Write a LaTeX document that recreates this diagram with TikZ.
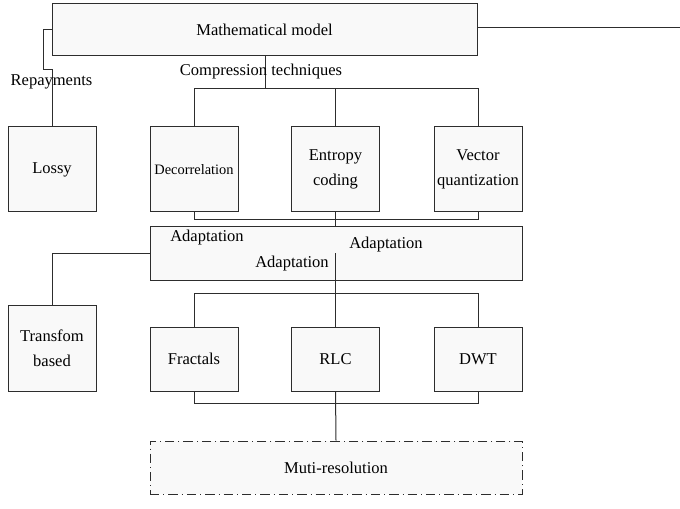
\documentclass[tikz,border=0pt]{standalone}
\usepackage{fontspec}
\setmainfont{Liberation Serif}
\usepackage{tikz}
\definecolor{boxgray}{RGB}{249, 249, 249}
\definecolor{linegray}{RGB}{45, 45, 45}

\begin{document}
\begin{tikzpicture}[x = 0.75pt, y = -0.75pt,
	wire/.style = {draw = linegray, line width = 0.75pt},
	box/.style = {rectangle, draw = linegray, fill = boxgray, line width = 0.75pt,
		align = center, inner sep = 1pt, font = \fontsize{12.4}{18.5}\selectfont},
	smallbox/.style = {box, minimum width = 66pt, minimum height = 63.75pt},
	lowbox/.style = {box, minimum width = 66pt, minimum height = 48pt},
	widebox/.style = {box, minimum width = 279pt, minimum height = 39.75pt},
	label/.style = {inner sep = 0pt, font = \fontsize{12.4}{14}\selectfont}]
	\useasboundingbox (0,0) rectangle (680,509);
	\node (model) at (264.5,30) [box, minimum width = 318.75pt, minimum height = 39pt] {Mathematical model};
	\node (lossy) at (52,169.5) [smallbox] {Lossy};
	\node (decor) at (194,169.5) [smallbox, font = \fontsize{10.8}{13}\selectfont] {Decorrelation};
	\node (entropy) at (335.5,169.5) [smallbox] {Entropy\\coding};
	\node (vq) at (478,169.5) [smallbox] {Vector\\quantization};
	\node (adapt) at (336,253.5) [widebox] {};
	\node (transf) at (52,348) [box, minimum width = 66pt, minimum height = 64.5pt] {Transfom\\based};
	\node (fractal) at (194,359) [lowbox] {Fractals};
	\node (rlc) at (335.5,359) [lowbox] {RLC};
	\node (dwt) at (478,359) [lowbox] {DWT};
	\node (multi) at (336,467.5) [widebox, dash pattern = on 7pt off 3pt on 0.8pt off 3pt] {Muti-resolution};
	\coordinate (lk) at (43,70);
	\coordinate (rightend) at (680,28);
	\coordinate (bus1) at (265,89);
	\coordinate (bus2) at (335,220);
	\coordinate (tick) at (335.5,253);
	\coordinate (bus3) at (335,293);
	\coordinate (bus4) at (335,403);
	\draw[wire] (model.west) -- (model.west -| lk) -- (lk) -- (lk -| lossy.north) -- (lossy.north);
	\draw[wire] (model.east |- rightend) -- (rightend);
	\draw[wire] (model.south -| bus1) -- (bus1);
	\draw[wire] (decor.north) -- (decor.north |- bus1) -- (vq.north |- bus1) -- (vq.north);
	\draw[wire] (entropy.north) -- (entropy.north |- bus1);
	\draw[wire] (decor.south) -- (decor.south |- bus2) -- (vq.south |- bus2) -- (vq.south);
	\draw[wire] (entropy.south) -- (entropy.south |- adapt.north);
	\draw[wire] (adapt.west) -| (transf.north);
	\draw[wire] (tick) -- (rlc.north);
	\draw[wire] (fractal.north) -- (fractal.north |- bus3) -- (dwt.north |- bus3) -- (dwt.north);
	\draw[wire] (fractal.south) -- (fractal.south |- bus4) -- (dwt.south |- bus4) -- (dwt.south);
	\draw[wire] (rlc.south) -- (multi.north);
	\node (repay) at (51.5,82) [label] {Repayments};
	\node (comp) at (261,72) [label] {Compression techniques};
	\node (ad1) at (207,238) [label] {Adaptation};
	\node (ad2) at (386,245) [label] {Adaptation};
	\node (ad3) at (292,264) [label] {Adaptation};
\end{tikzpicture}
\end{document}
